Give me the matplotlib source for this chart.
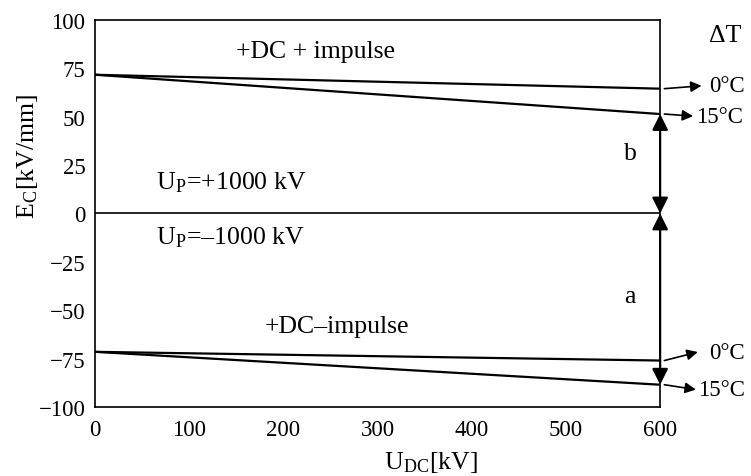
import numpy as np
import matplotlib.pyplot as plt

plt.rcParams['font.family'] = ['Liberation Serif', 'DejaVu Serif']
plt.rcParams['mathtext.fontset'] = 'stix'

# U_DC [kV] and E_C [kV/mm] for the two impulse polarities and two temperature drops
u_dc = [0, 600]
pos_0C = [71.7, 64.5]
pos_15C = [71.7, 51.4]
neg_0C = [-71.5, -76.0]
neg_15C = [-71.5, -88.5]

fig, ax = plt.subplots(figsize=(7.51, 4.77), dpi=100)
fig.subplots_adjust(left=0.1265, right=0.879, top=0.956, bottom=0.1447)

for ys in (pos_0C, pos_15C, neg_0C, neg_15C):
    ax.plot(u_dc, ys, color='black', lw=1.6)
ax.axhline(0, color='black', lw=1.2)

ax.set_xlim(0, 600)
ax.set_ylim(-100, 100)
ax.set_xticks(np.arange(0, 601, 100))
ax.set_yticks(np.arange(-100, 101, 25))
ax.tick_params(length=0, labelsize=16.5)
ax.tick_params(axis='x', pad=9)
ax.tick_params(axis='y', pad=7)
for s in ax.spines.values():
    s.set_linewidth(1.2)

fs = 18.5
ax.text(0.595, -0.142, r'U$_{\mathregular{DC}}$[kV]', fontsize=fs, ha='center', va='center',
        transform=ax.transAxes)
ax.text(-0.120, 0.649, r'E$_{\mathregular{C}}$[kV/mm]', fontsize=fs, ha='center', va='center',
        rotation=90, transform=ax.transAxes)

ax.text(234, 84, '+DC + impulse', fontsize=fs, ha='center', va='center')
ax.text(65, 16.5, r'U$_{\mathregular{P}}$=+1000 kV', fontsize=fs, ha='left', va='center')
ax.text(65, -12, r'U$_{\mathregular{P}}$=–1000 kV', fontsize=fs, ha='left', va='center')
ax.text(180, -58, '+DC–impulse', fontsize=fs, ha='left', va='center')
ax.text(568, 31, 'b', fontsize=fs, ha='center', va='center')
ax.text(568, -42.5, 'a', fontsize=fs, ha='center', va='center')

# double arrows at U_DC = 600 kV
arr = dict(arrowstyle='<|-|>', color='black', lw=1.6, mutation_scale=24, shrinkA=0, shrinkB=0)
ax.annotate('', xy=(600, pos_15C[1]), xytext=(600, 0), arrowprops=arr, annotation_clip=False)
ax.annotate('', xy=(600, neg_15C[1]), xytext=(600, 0), arrowprops=arr, annotation_clip=False)

# delta T labels outside the frame
fr = 16.5
ax.text(669, 92.5, 'ΔT', fontsize=fs, ha='center', va='center', clip_on=False)
side = dict(arrowstyle='-|>', color='black', lw=1.2, mutation_scale=16, shrinkA=0, shrinkB=0)
labels = [(pos_0C[1], 644, 66.0, 652, '0°C'),
          (pos_15C[1], 635, 50.3, 638, '15°C'),
          (neg_0C[1], 640, -71.6, 652, '0°C'),
          (neg_15C[1], 638, -91.0, 640, '15°C')]
for y0, xt, y1, xl, lab in labels:
    ax.annotate('', xy=(xt, y1), xytext=(604.5, y0), arrowprops=side, annotation_clip=False)
    ax.text(xl, y1, lab, fontsize=fr, ha='left', va='center', clip_on=False)

plt.savefig('out.png', dpi=100)
